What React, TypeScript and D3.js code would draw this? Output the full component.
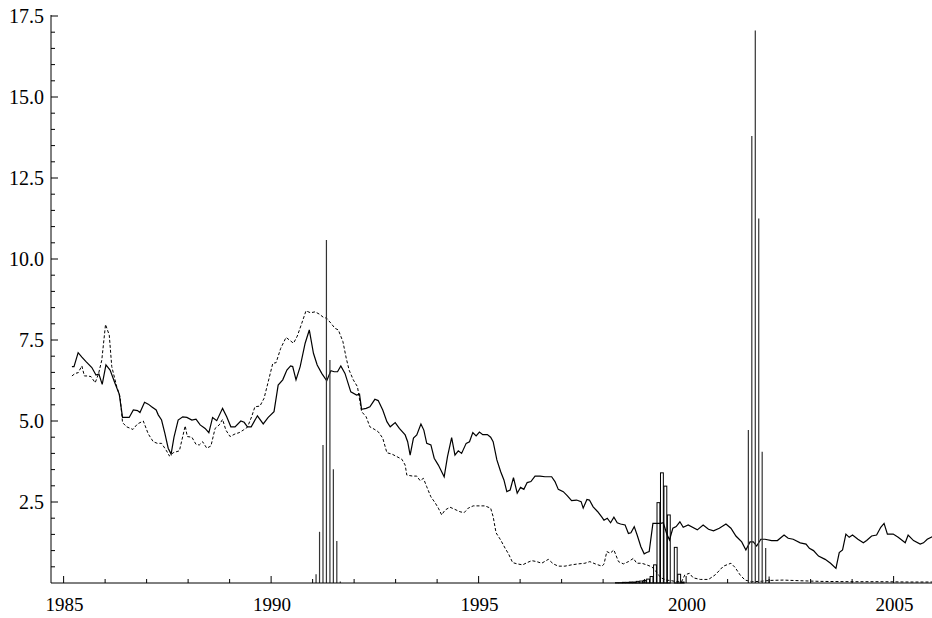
import { useEffect, useRef } from 'react';
import * as d3 from 'd3';

// [decimal year, value]
const solidSeries: [number, number][] = [
  [1985.20,6.68],[1985.25,6.68],[1985.35,7.11],[1985.44,6.97],[1985.54,6.83],[1985.68,6.65],[1985.78,6.42],[1985.85,6.45],[1985.93,6.13],
  [1986.02,6.73],[1986.12,6.57],[1986.24,6.16],[1986.34,5.83],[1986.42,5.11],[1986.58,5.11],[1986.68,5.34],[1986.78,5.32],[1986.84,5.26],[1986.95,5.58],
  [1987.04,5.52],[1987.12,5.44],[1987.23,5.34],[1987.28,5.19],[1987.36,5.03],[1987.44,4.62],[1987.52,4.16],[1987.59,3.98],[1987.66,4.50],[1987.76,5.03],[1987.87,5.13],[1987.97,5.11],
  [1988.09,5.03],[1988.19,5.06],[1988.29,4.88],[1988.41,4.77],[1988.50,4.64],[1988.59,5.11],[1988.69,5.01],[1988.83,5.39],[1988.93,5.13],
  [1989.03,4.82],[1989.13,4.82],[1989.27,5.00],[1989.35,4.96],[1989.43,4.82],[1989.52,4.82],[1989.67,5.16],[1989.81,4.91],[1989.93,5.11],
  [1990.07,5.29],[1990.17,6.11],[1990.28,6.27],[1990.38,6.57],[1990.47,6.70],[1990.52,6.68],[1990.60,6.27],[1990.70,6.68],[1990.82,7.40],[1990.92,7.81],
  [1991.02,7.09],[1991.11,6.73],[1991.22,6.47],[1991.34,6.24],[1991.44,6.55],[1991.52,6.52],[1991.60,6.52],[1991.68,6.70],[1991.78,6.47],[1991.92,5.90],
  [1992.06,5.80],[1992.13,5.83],[1992.18,5.36],[1992.29,5.39],[1992.38,5.44],[1992.50,5.67],[1992.58,5.63],[1992.69,5.34],[1992.79,4.98],[1992.87,4.82],[1992.99,4.95],
  [1993.09,4.77],[1993.23,4.57],[1993.29,4.36],[1993.35,3.95],[1993.43,4.47],[1993.51,4.57],[1993.61,4.91],[1993.68,4.72],[1993.75,4.31],[1993.85,4.26],[1993.93,3.85],
  [1994.03,3.64],[1994.17,3.28],[1994.25,3.90],[1994.35,4.49],[1994.43,3.95],[1994.51,4.08],[1994.59,4.00],[1994.70,4.31],[1994.78,4.36],[1994.86,4.64],[1994.94,4.54],
  [1995.02,4.66],[1995.10,4.58],[1995.21,4.58],[1995.29,4.50],[1995.35,4.36],[1995.44,3.80],[1995.53,3.44],[1995.61,3.18],[1995.68,2.82],[1995.76,2.87],[1995.84,3.25],[1995.93,2.77],
  [1996.01,2.95],[1996.09,2.89],[1996.17,3.10],[1996.26,3.13],[1996.36,3.30],[1996.48,3.30],[1996.60,3.28],[1996.76,3.28],[1996.84,3.13],[1996.92,2.89],
  [1997.04,2.82],[1997.14,2.69],[1997.24,2.54],[1997.36,2.56],[1997.47,2.51],[1997.52,2.31],[1997.61,2.58],[1997.67,2.56],[1997.76,2.35],[1997.87,2.20],[1997.97,2.03],
  [1998.02,1.94],[1998.10,2.00],[1998.18,1.86],[1998.26,2.03],[1998.34,1.86],[1998.42,1.82],[1998.53,1.79],[1998.61,1.53],[1998.67,1.55],[1998.75,1.74],[1998.82,1.48],[1998.91,1.12],[1998.99,0.90],
  [1999.05,0.94],[1999.11,0.97],[1999.20,1.84],[1999.29,1.84],[1999.39,1.84],[1999.45,1.86],[1999.53,1.53],[1999.60,1.33],[1999.68,1.69],[1999.76,1.74],[1999.85,1.89],[1999.93,1.72],
  [2000.05,1.79],[2000.27,1.64],[2000.41,1.79],[2000.54,1.66],[2000.66,1.61],[2000.80,1.69],[2000.96,1.82],
  [2001.08,1.69],[2001.20,1.45],[2001.34,1.27],[2001.44,1.02],[2001.54,1.27],[2001.62,1.27],[2001.70,1.14],[2001.80,1.35],[2001.90,1.35],
  [2002.06,1.31],[2002.20,1.31],[2002.36,1.48],[2002.46,1.38],[2002.58,1.35],[2002.75,1.24],[2002.89,1.20],[2002.97,1.07],
  [2003.07,1.00],[2003.19,0.83],[2003.35,0.73],[2003.48,0.61],[2003.61,0.45],[2003.69,0.94],[2003.77,1.02],[2003.85,1.51],[2003.93,1.41],
  [2004.01,1.48],[2004.14,1.35],[2004.27,1.24],[2004.35,1.31],[2004.47,1.45],[2004.59,1.48],[2004.69,1.72],[2004.77,1.84],[2004.85,1.51],[2004.99,1.51],
  [2005.11,1.41],[2005.28,1.24],[2005.35,1.48],[2005.48,1.31],[2005.64,1.20],[2005.72,1.24],[2005.81,1.35],[2005.93,1.43],
];

const dashedSeries: [number, number][] = [
  [1985.20,6.39],[1985.28,6.47],[1985.35,6.49],[1985.44,6.70],[1985.50,6.39],[1985.58,6.39],[1985.66,6.37],[1985.76,6.18],[1985.84,6.45],[1985.92,6.88],
  [1986.01,7.98],[1986.10,7.65],[1986.16,6.68],[1986.28,6.06],[1986.36,5.75],[1986.42,4.95],[1986.52,4.82],[1986.67,4.74],[1986.78,4.91],[1986.92,5.00],
  [1987.04,4.60],[1987.16,4.36],[1987.26,4.31],[1987.36,4.31],[1987.47,4.10],[1987.55,3.92],[1987.64,4.02],[1987.79,4.08],[1987.87,4.52],[1987.93,4.85],[1987.98,4.52],
  [1988.09,4.50],[1988.19,4.28],[1988.27,4.26],[1988.35,4.36],[1988.45,4.16],[1988.55,4.23],[1988.65,4.77],[1988.75,4.88],[1988.83,5.05],[1988.91,4.72],
  [1989.01,4.52],[1989.13,4.60],[1989.23,4.64],[1989.33,4.72],[1989.43,4.81],[1989.53,5.13],[1989.61,5.44],[1989.73,5.46],[1989.83,5.70],[1989.93,6.21],
  [1990.04,6.78],[1990.12,6.80],[1990.23,7.24],[1990.36,7.58],[1990.44,7.50],[1990.54,7.40],[1990.63,7.62],[1990.74,8.02],[1990.84,8.40],[1990.95,8.34],
  [1991.06,8.37],[1991.16,8.30],[1991.26,8.20],[1991.34,8.17],[1991.44,8.02],[1991.54,7.86],[1991.62,7.81],[1991.73,7.45],[1991.81,6.94],[1991.88,6.57],[1991.98,6.27],
  [1992.08,6.06],[1992.18,5.29],[1992.29,5.13],[1992.38,4.82],[1992.48,4.75],[1992.58,4.67],[1992.69,4.47],[1992.79,4.02],[1992.91,3.98],
  [1993.03,3.90],[1993.15,3.82],[1993.23,3.64],[1993.27,3.33],[1993.41,3.30],[1993.51,3.30],[1993.59,3.16],[1993.67,3.23],[1993.75,2.97],[1993.85,2.66],[1993.95,2.48],
  [1994.03,2.31],[1994.11,2.10],[1994.19,2.25],[1994.31,2.34],[1994.43,2.27],[1994.55,2.20],[1994.65,2.17],[1994.75,2.31],[1994.87,2.38],
  [1995.02,2.38],[1995.15,2.38],[1995.29,2.31],[1995.35,2.05],[1995.42,1.55],[1995.53,1.33],[1995.64,1.07],[1995.72,0.90],[1995.82,0.63],[1995.93,0.59],
  [1996.06,0.56],[1996.17,0.63],[1996.28,0.69],[1996.40,0.66],[1996.52,0.61],[1996.68,0.73],[1996.80,0.59],[1996.92,0.52],
  [1997.08,0.52],[1997.24,0.56],[1997.40,0.59],[1997.56,0.61],[1997.68,0.66],[1997.81,0.59],[1997.97,0.52],
  [1998.02,0.58],[1998.09,0.97],[1998.17,0.92],[1998.26,1.02],[1998.37,0.66],[1998.49,0.59],[1998.61,0.66],[1998.73,0.76],[1998.81,0.61],[1998.93,0.61],
  [1999.05,0.56],[1999.17,0.50],[1999.25,0.40],[1999.33,0.25],[1999.41,0.15],[1999.53,0.09],[1999.65,0.07],[1999.77,0.04],[1999.89,0.04],[1999.97,0.25],
  [2000.08,0.30],[2000.17,0.16],[2000.34,0.11],[2000.54,0.11],[2000.70,0.25],[2000.90,0.52],
  [2001.08,0.61],[2001.18,0.48],[2001.30,0.25],[2001.42,0.09],[2001.58,0.04],[2001.78,0.05],
  [2002.02,0.08],[2002.34,0.09],[2002.75,0.07],[2003.23,0.05],[2003.95,0.04],[2004.67,0.04],[2005.40,0.03],[2005.93,0.03],
];

// monthly spikes drawn as thin impulses
const impulseBars: [number, number][] = [
  [1991.083,0.27],[1991.167,1.58],[1991.25,4.26],[1991.333,10.59],[1991.417,6.88],[1991.5,3.51],[1991.583,1.30],[1991.667,0.05],
  [2001.5,4.72],[2001.583,13.8],[2001.667,17.05],[2001.75,11.25],[2001.833,4.05],[2001.917,1.08],[2002.0,0.2],
];

// monthly spikes drawn as hollow boxes
const boxBars: [number, number][] = [
  [1998.333,0.01],[1998.417,0.01],[1998.5,0.02],[1998.583,0.02],[1998.667,0.03],[1998.75,0.03],[1998.833,0.05],[1998.917,0.06],
  [1999.0,0.08],[1999.083,0.12],[1999.167,0.2],[1999.25,0.56],[1999.333,2.48],[1999.417,3.40],[1999.5,2.99],[1999.583,2.10],
  [1999.75,1.10],[1999.833,0.27],[1999.917,0.03],
];

const xMajorTicks = [1985, 1990, 1995, 2000, 2005];
const xMinorTicks = d3.range(1985, 2006);
const yMajorTicks = [2.5, 5.0, 7.5, 10.0, 12.5, 15.0, 17.5];
const yMinorTicks = d3.range(0.5, 17.51, 0.5);

const WIDTH = 932;
const HEIGHT = 618;

export default function App() {
  const svgRef = useRef<SVGSVGElement | null>(null);

  useEffect(() => {
    if (!svgRef.current) return;
    const svg = d3.select(svgRef.current);
    svg.selectAll('*').remove();

    const x = d3.scaleLinear().domain([1984.696, 2005.925]).range([51, 932]);
    const y = d3.scaleLinear().domain([0, 17.5]).range([583, 16]);
    const font = '"Liberation Serif", "DejaVu Serif", serif';

    const g = svg.append('g');

    // Lines
    const line = d3.line<[number, number]>()
      .x(d => x(d[0]))
      .y(d => y(d[1]));

    g.append('path')
      .datum(dashedSeries)
      .attr('d', line)
      .attr('fill', 'none')
      .attr('stroke', '#000')
      .attr('stroke-width', 1)
      .attr('stroke-dasharray', '3,2');

    g.append('path')
      .datum(solidSeries)
      .attr('d', line)
      .attr('fill', 'none')
      .attr('stroke', '#000')
      .attr('stroke-width', 1.2);

    // Impulse spikes
    g.selectAll('.impulse')
      .data(impulseBars)
      .enter()
      .append('line')
      .attr('class', 'impulse')
      .attr('x1', d => x(d[0]))
      .attr('x2', d => x(d[0]))
      .attr('y1', y(0))
      .attr('y2', d => y(d[1]))
      .attr('stroke', '#333')
      .attr('stroke-width', 1.2);

    // Hollow box bars
    const monthW = x(1985 + 1 / 12) - x(1985);
    g.selectAll('.box')
      .data(boxBars)
      .enter()
      .append('rect')
      .attr('class', 'box')
      .attr('x', d => x(d[0]) - monthW / 2 + 0.3)
      .attr('width', monthW - 0.6)
      .attr('y', d => y(d[1]))
      .attr('height', d => y(0) - y(d[1]))
      .attr('fill', 'none')
      .attr('stroke', '#000')
      .attr('stroke-width', 1);

    // Axes
    const axes = svg.append('g').attr('stroke', '#000').attr('stroke-width', 1);
    axes.append('line').attr('x1', 51).attr('x2', 51).attr('y1', y(17.5) - 1).attr('y2', y(0));
    axes.append('line').attr('x1', 51).attr('x2', WIDTH).attr('y1', y(0)).attr('y2', y(0));

    axes.selectAll('.xminor')
      .data(xMinorTicks.filter(t => !xMajorTicks.includes(t)))
      .enter().append('line')
      .attr('x1', d => x(d)).attr('x2', d => x(d))
      .attr('y1', y(0)).attr('y2', y(0) - 4);
    axes.selectAll('.xmajor')
      .data(xMajorTicks)
      .enter().append('line')
      .attr('x1', d => x(d)).attr('x2', d => x(d))
      .attr('y1', y(0)).attr('y2', y(0) - 7);

    axes.selectAll('.yminor')
      .data(yMinorTicks.filter(v => Math.abs(v / 2.5 - Math.round(v / 2.5)) > 0.01))
      .enter().append('line')
      .attr('x1', 51).attr('x2', 55)
      .attr('y1', d => y(d)).attr('y2', d => y(d));
    axes.selectAll('.ymajor')
      .data(yMajorTicks)
      .enter().append('line')
      .attr('x1', 51).attr('x2', 58)
      .attr('y1', d => y(d)).attr('y2', d => y(d));

    svg.selectAll('.xlabel')
      .data(xMajorTicks)
      .enter().append('text')
      .attr('x', d => x(d) + 1)
      .attr('y', 611)
      .attr('text-anchor', 'middle')
      .attr('font-family', font)
      .attr('font-size', '19px')
      .attr('fill', '#000')
      .text(d => String(d));

    svg.selectAll('.ylabel')
      .data(yMajorTicks)
      .enter().append('text')
      .attr('x', 44)
      .attr('y', d => y(d) + 7)
      .attr('text-anchor', 'end')
      .attr('font-family', font)
      .attr('font-size', '20px')
      .attr('fill', '#000')
      .text(d => d.toFixed(1));
  }, []);

  return (
    <svg
      ref={svgRef}
      width={WIDTH}
      height={HEIGHT}
      style={{ position: 'absolute', left: 0, top: 0, display: 'block', background: '#fff' }}
    />
  );
}
